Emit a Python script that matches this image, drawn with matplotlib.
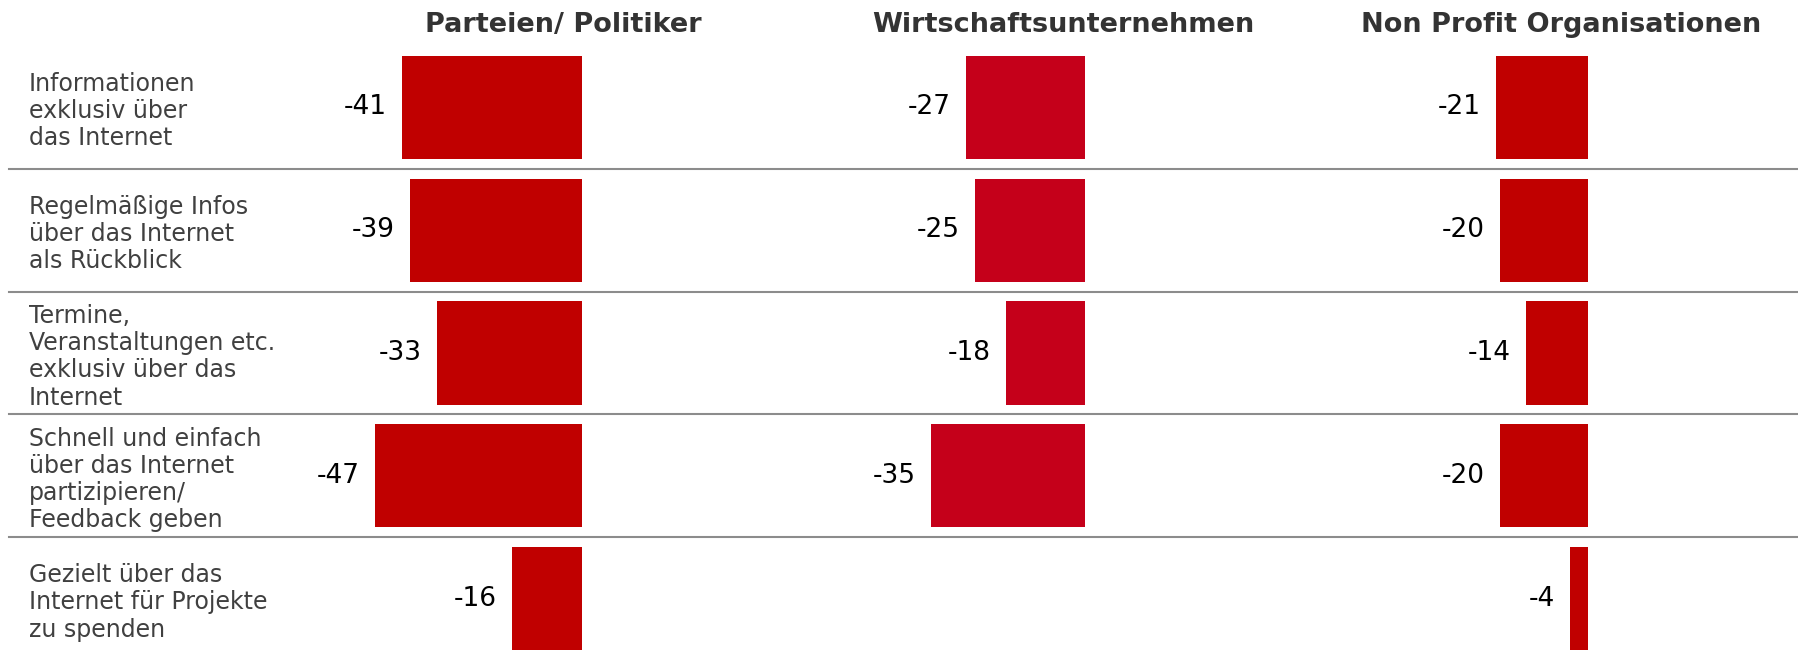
import matplotlib
matplotlib.use("Agg")
import matplotlib.pyplot as plt

# data
categories = [
    "Informationen\nexklusiv über\ndas Internet",
    "Regelmäßige Infos\nüber das Internet\nals Rückblick",
    "Termine,\nVeranstaltungen etc.\nexklusiv über das\nInternet",
    "Schnell und einfach\nüber das Internet\npartizipieren/\nFeedback geben",
    "Gezielt über das\nInternet für Projekte\nzu spenden",
]
groups = ["Parteien/ Politiker", "Wirtschaftsunternehmen", "Non Profit Organisationen"]
parteien = [-41, -39, -33, -47, -16]
wirtschaft = [-27, -25, -18, -35, None]
nonprofit = [-21, -20, -14, -20, -4]
series = [parteien, wirtschaft, nonprofit]
bar_colors = ["#C00000", "#C5001A", "#C00000"]

W, H = 1798, 661
fig = plt.figure(figsize=(W / 100, H / 100), dpi=100)

# row area in pixels (top of first row .. bottom of last row)
top_px, bot_px = 46, 660
ax_bottom = 1 - bot_px / H
ax_height = (bot_px - top_px) / H

# background axes for labels and separators
bg = fig.add_axes([0, ax_bottom, 1, ax_height])
bg.set_xlim(0, 1)
bg.set_ylim(len(categories) - 0.5, -0.5)
bg.axis("off")
for i in range(len(categories) - 1):
    bg.axhline(i + 0.5, xmin=0.005, xmax=1, color="#8c8c8c", lw=1.5)
for i, cat in enumerate(categories):
    bg.text(29 / W, i + 0.03, cat, ha="left", va="center", fontsize=17,
            color="#404040", linespacing=1.17, family="DejaVu Sans")

# bar panels, zero line at these pixel positions
zero_px = [582, 1085, 1588]
px_per_unit = 4.4
lo, hi = -70, 30
title_x = [563, 1063, 1561]

for k in range(3):
    left_px = zero_px[k] + lo * px_per_unit
    width_px = (hi - lo) * px_per_unit
    ax = fig.add_axes([left_px / W, ax_bottom, width_px / W, ax_height])
    ax.patch.set_alpha(0)
    ax.set_xlim(lo, hi)
    ax.set_ylim(len(categories) - 0.5, -0.5)
    ax.axis("off")
    for i, v in enumerate(series[k]):
        if v is None:
            continue
        ax.barh(i, v, height=0.84, color=bar_colors[k])
        ax.annotate(str(v), xy=(v, i), xytext=(-11, 0), textcoords="offset points",
                    ha="right", va="center", fontsize=19, color="black",
                    family="DejaVu Sans")
    fig.text(title_x[k] / W, 1 - 25 / H, groups[k], ha="center", va="center",
             fontsize=19.5, fontweight="bold", color="#333333", family="DejaVu Sans")

fig.savefig("out.png", dpi=100)
